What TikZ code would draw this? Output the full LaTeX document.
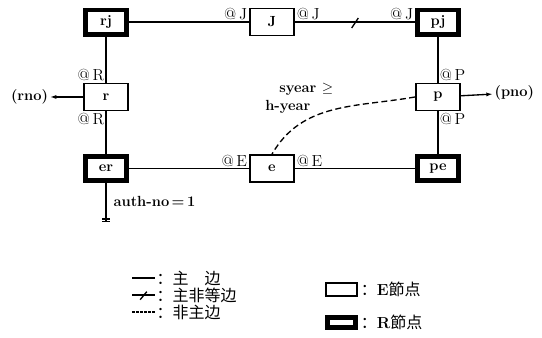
\documentclass[tikz,border=0pt]{standalone}
\usepackage{fontspec}
\newfontfamily\cjk{Noto Sans CJK SC}
\usetikzlibrary{positioning,arrows.meta,calc}

\begin{document}
\begin{tikzpicture}[
    >={Latex[length=5pt,width=3pt]},
    enode/.style={draw, line width=1.2pt, minimum width=33.3pt, minimum height=20.5pt,
                  inner sep=1pt, font=\fontsize{11}{13}\selectfont\bfseries},
    rnode/.style={draw, line width=3.5pt, minimum width=31pt, minimum height=18.25pt,
                  inner sep=1pt, font=\fontsize{11}{13}\selectfont\bfseries},
    edge/.style={line width=1pt},
    cmp/.style={line width=1pt, dash pattern=on 4.5pt off 2.5pt},
    lab/.style={inner sep=1.2pt, font=\large},
    txt/.style={inner sep=1pt, font=\fontsize{11}{13}\selectfont\bfseries},
    leg/.style={inner sep=1pt, font=\fontsize{12}{14}\selectfont},
]
    \useasboundingbox (-79.5pt,16.5pt) rectangle (327pt,-236.25pt);

    % Top row
    \node[rnode] (rj) at (0,0) {rj};
    \node[enode, right=90pt of rj] (J) {J};
    \node[rnode, right=90pt of J] (pj) {pj};

    % Middle row
    \node[enode, below=34.5pt of rj] (r) {r};
    \node[enode, below=34.5pt of pj] (p) {p};

    % Bottom row
    \node[rnode, below=32pt of r] (er) {er};
    \node[enode, right=90pt of er] (e) {e};
    \node[rnode, right=90pt of e] (pe) {pe};

    % Edges
    \draw[edge] (rj) -- (J);
    \draw[edge] (J) -- coordinate[pos=0.5] (jpmid) (pj);
    \draw[edge] ([shift={(-2.5pt,-4.5pt)}]jpmid) -- ([shift={(2.5pt,3pt)}]jpmid);
    \draw[edge] (rj) -- (r);
    \draw[edge] (r) -- (er);
    \draw[edge] (er) -- (e);
    \draw[edge] (e) -- (pe);
    \draw[edge] (pj) -- (p);
    \draw[edge] (p) -- (pe);

    % Edge labels
    \node[lab, anchor=south east] (aj1) at (J.west) {@\,J};
    \node[lab, anchor=south west] (aj2) at (J.east) {@\,J};
    \node[lab, anchor=south east] (aj3) at (pj.west) {@\,J};
    \node[lab, anchor=south east] (ar1) at (r.north) {@\,R};
    \node[lab, anchor=north east] (ar2) at (r.south) {@\,R};
    \node[lab, anchor=south west] (ap1) at (p.north) {@\,P};
    \node[lab, anchor=north west] (ap2) at (p.south) {@\,P};
    \node[lab, anchor=south east] (ae1) at (e.west) {@\,E};
    \node[lab, anchor=south west] (ae2) at (e.east) {@\,E};

    % Outputs
    \node[txt, left=25pt of r] (rno) {(rno)};
    \node[txt, right=24pt of p, yshift=3pt] (pno) {(pno)};
    \draw[edge, ->] (r) -- (rno);
    \draw[edge, ->] (p) -- (pno);

    % Non-main edge
    \draw[cmp] (p.west) to[out=190, in=60] (e.north);
    \node[txt, anchor=west] (sy) at ($(p.west)+(-103pt,5.5pt)$) {syear $\geq$};
    \node[txt, anchor=west] (hy) at ($(p.west)+(-113.5pt,-7.5pt)$) {h-year};

    % Constant
    \coordinate[below=29pt of er.south] (gnd);
    \draw[edge] (er) -- (gnd);
    \draw[edge] ([xshift=-3pt]gnd) -- ([xshift=3pt]gnd);
    \draw[edge] ([xshift=-3pt,yshift=2.2pt]gnd) -- ([xshift=3pt,yshift=2.2pt]gnd);
    \node[txt, anchor=west] (an) at ($(er.south)+(4.5pt,-14pt)$) {auth-no\,=\,1};

    % Legend
    \coordinate (lg1) at (19.5pt,-192pt);
    \coordinate[below=12.75pt of lg1] (lg2);
    \coordinate[below=12.75pt of lg2] (lg3);
    \coordinate[right=17.25pt of lg1] (lg1e);
    \coordinate[right=17.25pt of lg2] (lg2e);
    \coordinate[right=17.25pt of lg3] (lg3e);
    \draw[edge] (lg1) -- (lg1e);
    \draw[edge] (lg2) -- coordinate[pos=0.5] (lg2m) (lg2e);
    \draw[edge] ([shift={(-2.5pt,-3.5pt)}]lg2m) -- ([shift={(2.5pt,2.5pt)}]lg2m);
    \draw[edge, dash pattern=on 2pt off 1pt] (lg3) -- (lg3e);
    \node[leg, anchor=west] (lt1) at (lg1e) {\cjk ：主　边};
    \node[leg, anchor=west] (lt2) at (lg2e) {\cjk ：主非等边};
    \node[leg, anchor=west] (lt3) at (lg3e) {\cjk ：非主边};

    \node[draw, line width=1.8pt, minimum width=23pt, minimum height=9.5pt, inner sep=0pt]
        (eb) at (176.6pt,-200.6pt) {};
    \node[draw, line width=3.75pt, minimum width=21pt, minimum height=7.5pt, inner sep=0pt]
        (rb) at (176.6pt,-225.4pt) {};
    \node[leg, right=1pt of eb] (lte) {{\cjk ：}\textbf{E}{\cjk 節点}};
    \node[leg, right=1pt of rb] (ltr) {{\cjk ：}\textbf{R}{\cjk 節点}};

\end{tikzpicture}
\end{document}
